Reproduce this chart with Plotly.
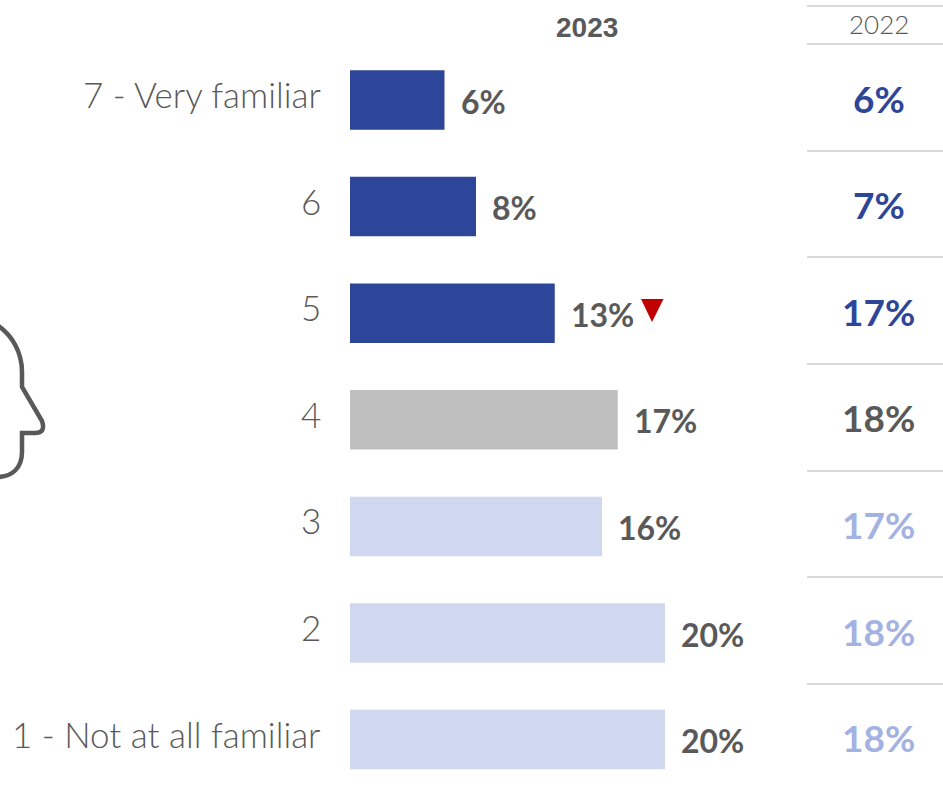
import plotly.graph_objects as go

W, H = 943, 787
categories = ["7 - Very familiar", "6", "5", "4", "3", "2", "1 - Not at all familiar"]
values_2023 = [6, 8, 13, 17, 16, 20, 20]
values_2022 = [6, 7, 17, 18, 17, 18, 18]
bar_colors = ["#2E4699"] * 3 + ["#BFBFBF"] + ["#D0D8F0"] * 3
text_2022_colors = ["#2E4699"] * 3 + ["#595959"] + ["#A3B1E3"] * 3
header_2023 = "2023"
header_2022 = "2022"
GREY = "#595959"
LINE = "#D9D9D9"
BODY = "Lato"

px = lambda x: x / W
py = lambda y: 1 - y / H
idx = list(range(len(categories)))

fig = go.Figure()
fig.add_trace(go.Bar(
    x=values_2023, y=idx, orientation="h", width=0.558,
    marker=dict(color=bar_colors, line_width=0),
    hoverinfo="skip",
))

ann = []
for i, (c, v, p, col) in enumerate(zip(categories, values_2023, values_2022, text_2022_colors)):
    ann.append(dict(x=px(323), xref="paper", y=i, yref="y", yshift=6, text=c, showarrow=False,
                    xanchor="right", yanchor="middle",
                    font=dict(family=BODY, size=35, color=GREY, weight=300)))
    ann.append(dict(x=v, xref="x", xshift=14, y=i, yref="y", yshift=-1, text=f"{v}%", showarrow=False,
                    xanchor="left", yanchor="middle",
                    font=dict(family=BODY, size=32, color=GREY, weight=700)))
    ann.append(dict(x=px(878.5), xref="paper", y=i, yref="y", yshift=2, text=f"{p}%", showarrow=False,
                    xanchor="center", yanchor="middle",
                    font=dict(family=BODY, size=37, color=col, weight=700)))
ann.append(dict(x=px(587), xref="paper", y=py(28), yref="paper", text=header_2023, showarrow=False,
                xanchor="center", yanchor="middle",
                font=dict(family="Liberation Sans", size=28, color=GREY, weight=700)))
ann.append(dict(x=px(878.5), xref="paper", y=py(24), yref="paper", text=header_2022, showarrow=False,
                xanchor="center", yanchor="middle",
                font=dict(family=BODY, size=26, color=GREY, weight=300)))

shapes = []
for y in [6, 44, 151, 257, 364, 471, 577, 684]:
    shapes.append(dict(type="line", xref="paper", yref="paper", x0=px(807), x1=1, y0=py(y), y1=py(y),
                       line=dict(color=LINE, width=2)))

def P(a, b):
    return f"{px(a):.5f},{py(b):.5f}"

shapes.append(dict(type="path", xref="paper", yref="paper",
                   path="M" + P(641, 299) + " L" + P(663.5, 299) + " L" + P(652, 322) + " Z",
                   fillcolor="#C00000", line_width=0))

head = ("M" + P(-3, 325) + " C" + P(12, 335) + " " + P(22, 352) + " " + P(22, 372) +
        " L" + P(22, 387) + " L" + P(42, 421) + " Q" + P(46, 433) + " " + P(35, 433) +
        " L" + P(22, 433) + " L" + P(22, 452) + " C" + P(22, 468) + " " + P(12, 477) + " " + P(-3, 477))
shapes.append(dict(type="path", xref="paper", yref="paper", path=head,
                   line=dict(color=GREY, width=4.5), fillcolor="rgba(0,0,0,0)"))

fig.update_layout(
    width=W, height=H, margin=dict(l=0, r=0, t=0, b=0),
    paper_bgcolor="white", plot_bgcolor="white", showlegend=False,
    annotations=ann, shapes=shapes,
    xaxis=dict(domain=[px(350), 1], range=[0, (W - 350) / 15.75], visible=False),
    yaxis=dict(domain=[0, 1], range=[(787 - 100) / 106.6, -100 / 106.6], visible=False),
)
fig.write_html("out.html", config={"displayModeBar": False},
               post_script="document.body.style.margin='0';document.body.style.overflow='hidden';")
